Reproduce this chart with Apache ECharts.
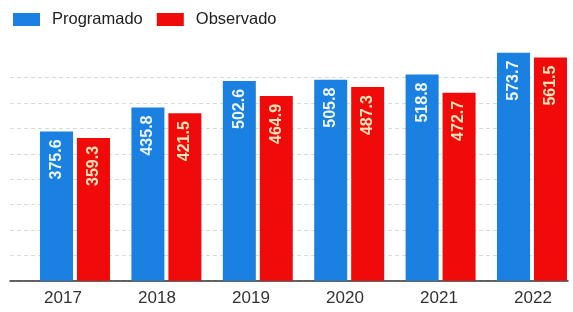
<!DOCTYPE html>
<html lang="es">
  <head>
    <meta charset="UTF-8" />
    <title>Programado vs Observado</title>
    <script src="https://cdn.jsdelivr.net/npm/echarts@6/dist/echarts.min.js"></script>
    <style>
      html, body { margin: 0; padding: 0; background: #fff; }
      #chart { width: 573px; height: 312px; }
    </style>
  </head>
  <body>
    <div id="chart"></div>
    <script>
      const years = ["2017", "2018", "2019", "2020", "2021", "2022"];
      const programado = [375.6, 435.8, 502.6, 505.8, 518.8, 573.7];
      const observado = [359.3, 421.5, 464.9, 487.3, 472.7, 561.5];

      const font = "'Liberation Sans', Arial, sans-serif";

      let chart = echarts.init(document.getElementById("chart"), null, {
        renderer: "canvas",
      });

      function barLabel(color) {
        return {
          show: true,
          position: "insideTop",
          rotate: 90,
          align: "right",
          verticalAlign: "middle",
          distance: 8,
          color: color,
          fontSize: 16,
          fontWeight: "bold",
          fontFamily: font,
        };
      }

      chart.setOption({
        animation: false,
        legend: {
          left: 13,
          top: 11,
          padding: 0,
          itemWidth: 27,
          itemHeight: 13,
          itemGap: 14,
          icon: "rect",
          textStyle: { fontSize: 16.5, color: "#222", fontFamily: font, padding: [0, 0, 0, 7] },
          data: ["Programado", "Observado"],
        },
        grid: [
          // bars
          { left: 29.3, right: -4.7, top: 51.8, bottom: 31.3, containLabel: false, outerBoundsMode: "none" },
          // gridlines + baseline
          { left: 10, right: 5, top: 77.7, bottom: 31.3, containLabel: false, outerBoundsMode: "none" },
          // year labels
          { left: 16, right: -7, top: 51.8, bottom: 31.3, containLabel: false, outerBoundsMode: "none" },
        ],
        xAxis: [
          {
            type: "category",
            gridIndex: 0,
            data: years,
            axisLine: { show: false },
            axisTick: { show: false },
            axisLabel: { show: false },
          },
          {
            type: "value",
            gridIndex: 1,
            min: 0,
            max: 1,
            axisLine: { show: true, lineStyle: { color: "#333", width: 1.5 } },
            axisTick: { show: false },
            axisLabel: { show: false },
            splitLine: { show: false },
          },
          {
            type: "category",
            gridIndex: 2,
            data: years,
            axisLine: { show: false },
            axisTick: { show: false },
            axisLabel: { margin: 9, fontSize: 17, color: "#333", fontFamily: font },
          },
        ],
        yAxis: [
          {
            type: "value",
            gridIndex: 0,
            min: 0,
            max: 576,
            show: false,
            splitLine: { show: false },
          },
          {
            type: "value",
            gridIndex: 1,
            min: 0,
            max: 512,
            interval: 64,
            axisLine: { show: false },
            axisTick: { show: false },
            axisLabel: { show: false },
            splitLine: { show: true, lineStyle: { color: "#dadada", type: [4, 3], width: 1 } },
          },
          {
            type: "value",
            gridIndex: 2,
            min: 0,
            max: 1,
            show: false,
            splitLine: { show: false },
          },
        ],
        series: [
          {
            name: "Programado",
            type: "bar",
            xAxisIndex: 0,
            yAxisIndex: 0,
            data: programado,
            barWidth: 33,
            barGap: "12%",
            itemStyle: { color: "#1a80e2" },
            label: barLabel("#eef7ff"),
          },
          {
            name: "Observado",
            type: "bar",
            xAxisIndex: 0,
            yAxisIndex: 0,
            data: observado,
            barWidth: 33,
            barGap: "12%",
            itemStyle: { color: "#f00a0a" },
            label: barLabel("#ffe2b8"),
          },
        ],
      });
    </script>
  </body>
</html>
